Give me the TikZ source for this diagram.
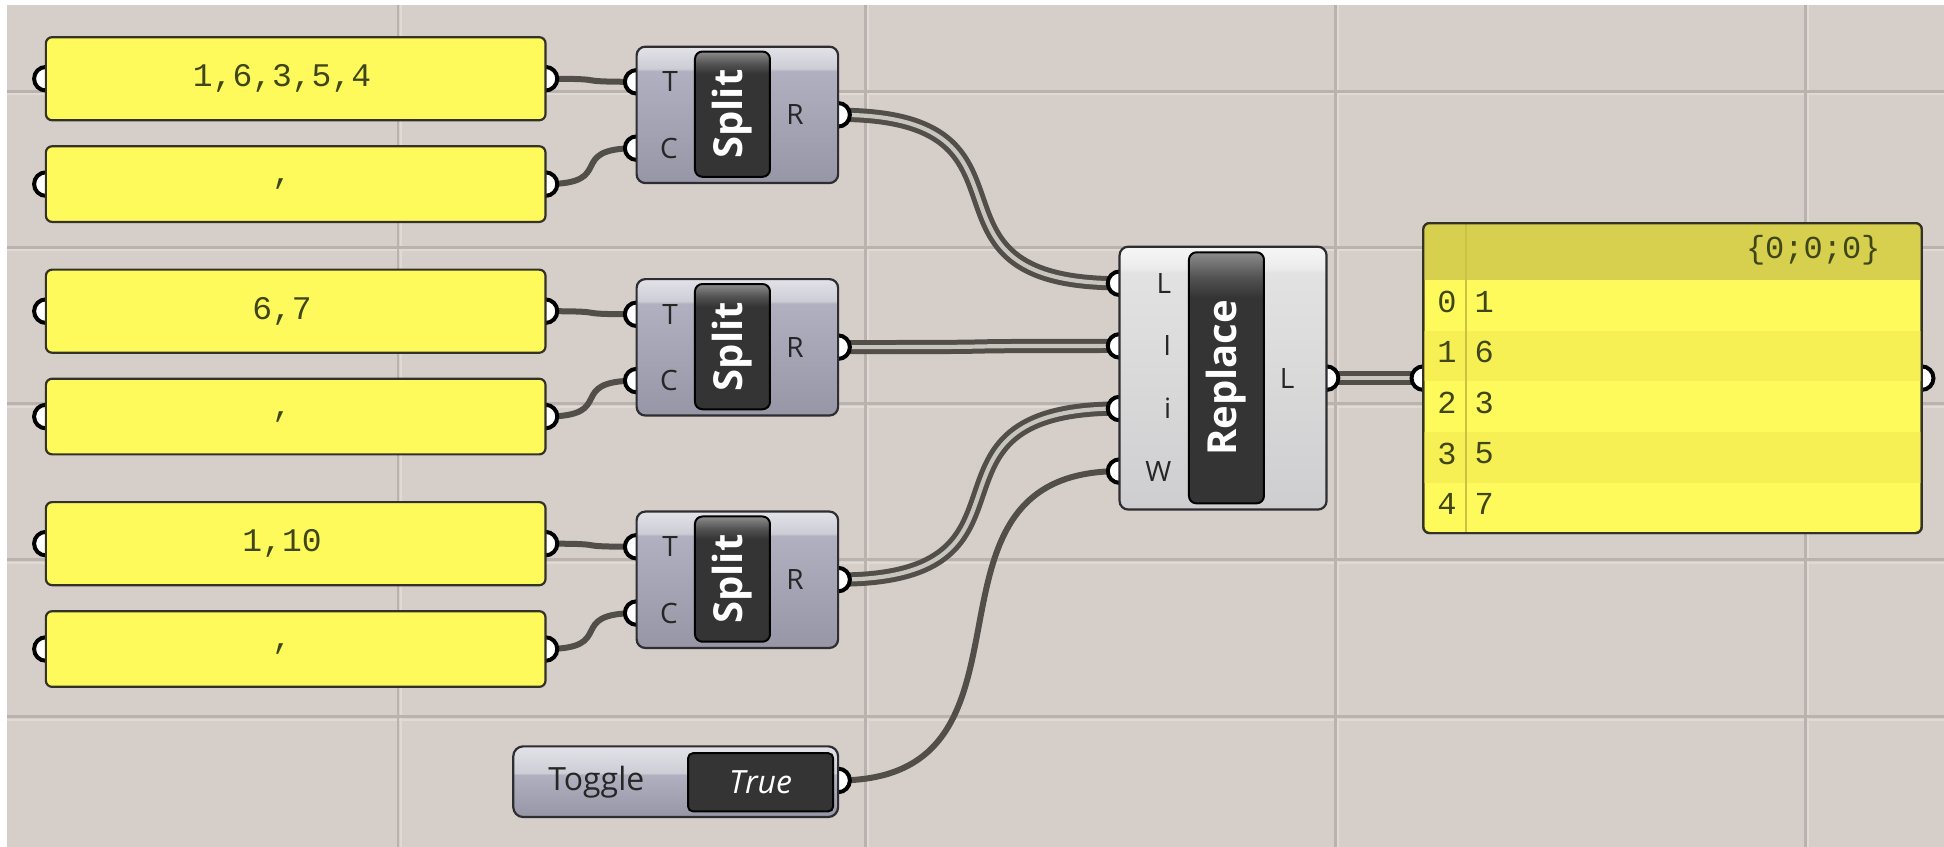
\documentclass[tikz,border=0pt]{standalone}
\usepackage{fontspec}
\setmainfont{Open Sans}
\newfontfamily\monofont{Liberation Mono}
\usepackage{graphicx}
\usetikzlibrary{positioning}

\definecolor{canvas}{RGB}{214,207,201}
\definecolor{gridline}{RGB}{186,178,174}
\definecolor{gridlight}{RGB}{224,218,212}
\definecolor{panelfill}{RGB}{255,250,92}
\definecolor{panelrim}{RGB}{52,50,38}
\definecolor{paneltext}{RGB}{62,70,26}
\definecolor{headfill}{RGB}{214,208,78}
\definecolor{rowdark}{RGB}{247,240,84}
\definecolor{divcol}{RGB}{200,194,70}
\definecolor{wirecol}{RGB}{82,78,74}
\definecolor{wiregap}{RGB}{200,196,190}
\definecolor{comprim}{RGB}{45,45,50}
\definecolor{splittop}{RGB}{226,226,232}
\definecolor{splitband}{RGB}{205,205,214}
\definecolor{splitmid}{RGB}{176,176,192}
\definecolor{splitbot}{RGB}{150,150,166}
\definecolor{repltop}{RGB}{246,246,246}
\definecolor{replband}{RGB}{236,236,236}
\definecolor{replmid}{RGB}{226,226,226}
\definecolor{replbot}{RGB}{206,206,208}
\definecolor{btnfill}{RGB}{52,52,52}
\definecolor{btnmid}{RGB}{82,82,82}
\definecolor{btntop}{RGB}{140,140,140}

\pgfdeclareverticalshading{splitshade}{100bp}{color(0bp)=(splitbot); color(25bp)=(splitbot); color(66bp)=(splitmid); color(67bp)=(splitband); color(75bp)=(splittop); color(100bp)=(splittop)}
\pgfdeclareverticalshading{replshade}{100bp}{color(0bp)=(replbot); color(25bp)=(replbot); color(70bp)=(replmid); color(71bp)=(replband); color(75bp)=(repltop); color(100bp)=(repltop)}
\pgfdeclareverticalshading{toggleshade}{100bp}{color(0bp)=(splitbot); color(25bp)=(splitbot); color(55bp)=(splitmid); color(56bp)=(splitband); color(75bp)=(splittop); color(100bp)=(splittop)}
\pgfdeclareverticalshading{btnshade}{100bp}{color(0bp)=(btnfill); color(25bp)=(btnfill); color(66bp)=(btnfill); color(70bp)=(btnmid); color(75bp)=(btntop); color(100bp)=(btntop)}

\pgfdeclarelayer{background}
\pgfdeclarelayer{wires}
\pgfsetlayers{background,wires,main}

\newdimen\gpx \gpx=0.62pt

\begin{document}
\begin{tikzpicture}[x=0.62pt, y=-0.62pt]

% Set the size of the canvas
\useasboundingbox (0,0) rectangle (1568,683);

% Define styles for grips, panels and components
\tikzstyle{grip} = [circle, draw=black, line width=2pt, fill=white, minimum size=19\gpx, inner sep=0pt]
\tikzstyle{panel} = [rectangle, rounded corners=5\gpx, draw=panelrim, line width=1.1pt, fill=panelfill, minimum width=403\gpx, text=paneltext, font=\monofont\fontsize{16.5}{18}\selectfont, inner sep=0pt]
\tikzstyle{comp} = [rectangle, rounded corners=7\gpx, draw=comprim, line width=1.1pt, inner sep=0pt]
\tikzstyle{button} = [rectangle, rounded corners=6\gpx, draw=black, line width=1pt, shading=btnshade, text=white, font=\bfseries\fontsize{20}{22}\selectfont, inner sep=0pt]
\tikzstyle{port} = [font=\fontsize{14}{16}\selectfont, text=black!85, inner sep=0pt]
\tikzstyle{item} = [font=\monofont\fontsize{16}{18}\selectfont, text=paneltext, inner sep=0pt]

%Define wires: one line for an item, two lines for a list
\tikzstyle{wire} = [draw=wirecol, line width=3pt]
\tikzstyle{listwire} = [draw=wirecol, line width=2.5pt, double=wiregap, double distance=2.1pt]

% Grips of the panels
\node[grip] (p1i) at (37,63.5) {};
\node[grip] (p1o) at (440,63.5) {};
\node[grip] (p2i) at (37,148.5) {};
\node[grip] (p2o) at (440,148.5) {};
\node[grip] (p3i) at (37,251) {};
\node[grip] (p3o) at (440,251) {};
\node[grip] (p4i) at (37,336) {};
\node[grip] (p4o) at (440,336) {};
\node[grip] (p5i) at (37,438.5) {};
\node[grip] (p5o) at (440,438.5) {};
\node[grip] (p6i) at (37,523.5) {};
\node[grip] (p6o) at (440,523.5) {};

% Grips of the components
\node[grip] (s1T) at (513.5,66) {};
\node[grip] (s1C) at (513.5,119.5) {};
\node[grip] (s1R) at (676,92.6) {};
\node[grip] (s2T) at (513.5,253.5) {};
\node[grip] (s2C) at (513.5,307) {};
\node[grip] (s2R) at (676,280) {};
\node[grip] (s3T) at (513.5,441) {};
\node[grip] (s3C) at (513.5,494.5) {};
\node[grip] (s3R) at (676,467.5) {};
\node[grip] (rL) at (903,228.5) {};
\node[grip] (rI) at (903,279) {};
\node[grip] (ri) at (903,329.5) {};
\node[grip] (rW) at (903,380) {};
\node[grip] (rO) at (1070,305) {};
\node[grip] (oI) at (1148,305) {};
\node[grip] (oO) at (1550,305) {};
\node[grip] (tO) at (676,629.5) {};

% Text panels
\node[panel, minimum height=67\gpx] (p1) at (238.5,63.5) {1,6,3,5,4\hspace*{22\gpx}};
\node[panel, minimum height=61\gpx] (p2) at (238.5,148.5) {,\hspace*{22\gpx}};
\node[panel, minimum height=67\gpx] (p3) at (238.5,251) {6,7\hspace*{22\gpx}};
\node[panel, minimum height=61\gpx] (p4) at (238.5,336) {,\hspace*{22\gpx}};
\node[panel, minimum height=67\gpx] (p5) at (238.5,438.5) {1,10\hspace*{22\gpx}};
\node[panel, minimum height=61\gpx] (p6) at (238.5,523.5) {,\hspace*{22\gpx}};

% Split components
\node[comp, shading=splitshade, minimum width=162.5\gpx, minimum height=110\gpx] (s1) at (594.75,92.65) {};
\node[button, minimum width=60.5\gpx, minimum height=101\gpx] (b1) at (590.8,92.1) {\rotatebox{90}{Split}};
\node[port, anchor=east] (s1Tl) at (547,66) {T};
\node[port, anchor=east] (s1Cl) at (547,119.5) {C};
\node[port, anchor=west] (s1Rl) at (634,92.6) {R};

\node[comp, shading=splitshade, minimum width=162.5\gpx, minimum height=110\gpx] (s2) at (594.75,280.15) {};
\node[button, minimum width=60.5\gpx, minimum height=101\gpx] (b2) at (590.8,279.6) {\rotatebox{90}{Split}};
\node[port, anchor=east] (s2Tl) at (547,253.5) {T};
\node[port, anchor=east] (s2Cl) at (547,307) {C};
\node[port, anchor=west] (s2Rl) at (634,280) {R};

\node[comp, shading=splitshade, minimum width=162.5\gpx, minimum height=110\gpx] (s3) at (594.75,467.65) {};
\node[button, minimum width=60.5\gpx, minimum height=101\gpx] (b3) at (590.8,467.1) {\rotatebox{90}{Split}};
\node[port, anchor=east] (s3Tl) at (547,441) {T};
\node[port, anchor=east] (s3Cl) at (547,494.5) {C};
\node[port, anchor=west] (s3Rl) at (634,467.5) {R};

% Replace component
\node[comp, shading=replshade, minimum width=167\gpx, minimum height=212\gpx] (rp) at (986.5,305) {};
\node[button, minimum width=60.5\gpx, minimum height=202.5\gpx] (rb) at (989.25,304.75) {\rotatebox{90}{Replace}};
\node[port, anchor=east] (rLl) at (945,228.5) {L};
\node[port, anchor=east] (rIl) at (945,279) {I};
\node[port, anchor=east] (ril) at (945,329.5) {i};
\node[port, anchor=east] (rWl) at (945,380) {W};
\node[port, anchor=west] (rOl) at (1032,305) {L};

% Boolean toggle
\node[comp, shading=toggleshade, rounded corners=8\gpx, minimum width=262\gpx, minimum height=57\gpx] (tg) at (545,630.5) {};
\node[port, font=\fontsize{16}{18}\selectfont] (tgl) at (481,630.5) {Toggle};
\node[rectangle, rounded corners=4\gpx, draw=black, line width=1pt, fill=btnfill, minimum width=117\gpx, minimum height=47\gpx, text=white, font=\itshape\fontsize{16}{18}\selectfont, inner sep=0pt] (tv) at (613.5,631) {True};

% Output panel with the list
\node[panel, minimum width=402\gpx, minimum height=250\gpx] (out) at (1349,305) {};
\begin{scope}
\clip[rounded corners=5\gpx] (1148,180) rectangle (1550,430);
\fill[headfill] (1148,180) rectangle (1550,226);
\fill[rowdark] (1148,266.8) rectangle (1550,307.6);
\fill[rowdark] (1148,348.4) rectangle (1550,389.2);
\end{scope}
\draw[divcol, line width=1pt] (1182.5,180) -- (1182.5,430);
\draw[panelrim, line width=1.1pt, rounded corners=5\gpx] (1148,180) rectangle (1550,430);
\node[item] (path) at (1462.5,201.6) {\{0;0;0\}};
\node[item] (i0) at (1167,243.4) {0};
\node[item, anchor=west] (v0) at (1189,243.4) {1};
\node[item] (i1) at (1167,284.2) {1};
\node[item, anchor=west] (v1) at (1189,284.2) {6};
\node[item] (i2) at (1167,325) {2};
\node[item, anchor=west] (v2) at (1189,325) {3};
\node[item] (i3) at (1167,365.8) {3};
\node[item, anchor=west] (v3) at (1189,365.8) {5};
\node[item] (i4) at (1167,406.6) {4};
\node[item, anchor=west] (v4) at (1189,406.6) {7};

% Wires between the grips
\begin{pgfonlayer}{wires}
\draw[wire] (p1o.center) .. controls +(59,0) and +(-59,0) .. (s1T.center);
\draw[wire] (p2o.center) .. controls +(59,0) and +(-59,0) .. (s1C.center);
\draw[wire] (p3o.center) .. controls +(59,0) and +(-59,0) .. (s2T.center);
\draw[wire] (p4o.center) .. controls +(59,0) and +(-59,0) .. (s2C.center);
\draw[wire] (p5o.center) .. controls +(59,0) and +(-59,0) .. (s3T.center);
\draw[wire] (p6o.center) .. controls +(59,0) and +(-59,0) .. (s3C.center);
\draw[listwire] (s1R.center) .. controls +(180,0) and +(-180,0) .. (rL.center);
\draw[listwire] (s2R.center) .. controls +(180,0) and +(-180,0) .. (rI.center);
\draw[listwire] (s3R.center) .. controls +(180,0) and +(-180,0) .. (ri.center);
\draw[wire] (tO.center) .. controls +(180,0) and +(-180,0) .. (rW.center);
\draw[listwire] (rO.center) -- (oI.center);
\end{pgfonlayer}

% Canvas and its grid
\begin{pgfonlayer}{background}
\fill[white] (0,0) rectangle (1568,683);
\fill[canvas] (5.6,4) rectangle (1568,683);
\draw[gridlight, line width=1pt] (323.5,4) -- (323.5,683);
\draw[gridlight, line width=1pt] (700.5,4) -- (700.5,683);
\draw[gridlight, line width=1pt] (1079.5,4) -- (1079.5,683);
\draw[gridlight, line width=1pt] (1458.5,4) -- (1458.5,683);
\draw[gridlight, line width=1pt] (5.6,76) -- (1568,76);
\draw[gridlight, line width=1pt] (5.6,202) -- (1568,202);
\draw[gridlight, line width=1pt] (5.6,328) -- (1568,328);
\draw[gridlight, line width=1pt] (5.6,454) -- (1568,454);
\draw[gridlight, line width=1pt] (5.6,580.5) -- (1568,580.5);
\draw[gridline, line width=1.4pt] (321,4) -- (321,683);
\draw[gridline, line width=1.4pt] (698,4) -- (698,683);
\draw[gridline, line width=1.4pt] (1077,4) -- (1077,683);
\draw[gridline, line width=1.4pt] (1456,4) -- (1456,683);
\draw[gridline, line width=1.4pt] (5.6,73.5) -- (1568,73.5);
\draw[gridline, line width=1.4pt] (5.6,199.5) -- (1568,199.5);
\draw[gridline, line width=1.4pt] (5.6,325.5) -- (1568,325.5);
\draw[gridline, line width=1.4pt] (5.6,451.5) -- (1568,451.5);
\draw[gridline, line width=1.4pt] (5.6,578) -- (1568,578);
\end{pgfonlayer}

\end{tikzpicture}
\end{document}
